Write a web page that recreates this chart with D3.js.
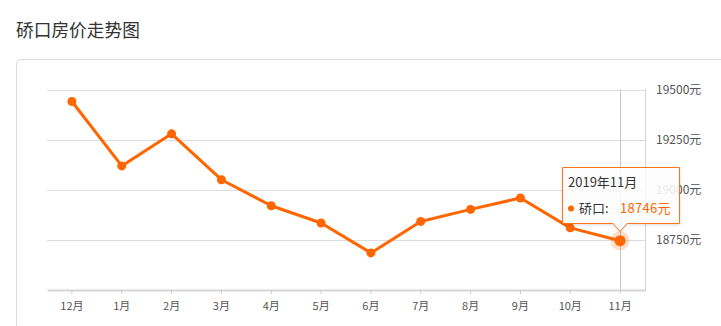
<!DOCTYPE html>
<html>
<head>
<meta charset="utf-8">
<script src="https://cdn.jsdelivr.net/npm/d3@7"></script>
<style>
  body { margin: 0; background: #fff; font-family: "Noto Sans CJK SC", "Noto Sans", sans-serif; }
</style>
</head>
<body>
<script>
const w = 721;
const h = 326;

const months = ["12月", "1月", "2月", "3月", "4月", "5月", "6月", "7月", "8月", "9月", "10月", "11月"];
const prices = [19440, 19119, 19279, 19050, 18920, 18834, 18685, 18842, 18902, 18959, 18810, 18746];
const yTicks = [18500, 18750, 19000, 19250, 19500];
const tipTitle = "2019年11月";
const seriesName = "硚口";

const orange = "#ff6600";

var svg = d3.select("body")
            .append("svg")
            .attr("width", w)
            .attr("height", h)
            .style("display", "block");

// title
svg.append("text")
   .text("硚口房价走势图")
   .attr("x", 16)
   .attr("y", 37)
   .attr("font-size", 17.7)
   .attr("fill", "#333");

// card border
svg.append("rect")
   .attr("x", 16.5)
   .attr("y", 59.5)
   .attr("width", 760)
   .attr("height", 320)
   .attr("rx", 4)
   .attr("fill", "none")
   .attr("stroke", "#ddd");

const xScale = d3.scaleBand()
                 .domain(months)
                 .range([47, 645]);

const yScale = d3.scaleLinear()
                 .domain([18500, 19500])
                 .range([290, 89.5]);

const chart = svg.append("g");

// grid lines
chart.selectAll(".grid")
     .data(yTicks.slice(1))
     .enter()
     .append("line")
     .attr("x1", 47)
     .attr("x2", 645)
     .attr("y1", d => Math.round(yScale(d)) + 0.5)
     .attr("y2", d => Math.round(yScale(d)) + 0.5)
     .attr("stroke", "#dcdcdc");

// right border of plot
chart.append("line")
     .attr("x1", 645.5).attr("x2", 645.5)
     .attr("y1", 89).attr("y2", 291)
     .attr("stroke", "#d4d4d4");

// y labels on right
const yAxis = d3.axisRight(yScale)
                .tickValues(yTicks.slice(1))
                .tickSize(0)
                .tickPadding(0)
                .tickFormat(d => d + "元");

const yG = chart.append("g")
     .attr("transform", "translate(656,0)")
     .call(yAxis);
yG.select(".domain").remove();
yG.selectAll("text")
  .attr("font-family", "Noto Sans CJK SC, sans-serif")
  .attr("font-size", 12)
  .attr("fill", "#555")
  .attr("dy", "0.33em");

// x axis
const xAxis = d3.axisBottom(xScale)
                .tickSize(4)
                .tickPadding(6)
                .tickSizeOuter(0);

const xG = chart.append("g")
     .attr("transform", "translate(0,290)")
     .call(xAxis);
xG.select(".domain")
  .attr("stroke", "#d6d6d6")
  .attr("stroke-width", 2);
xG.selectAll(".tick line")
  .attr("stroke", "#ccc");
xG.selectAll("text")
  .attr("font-family", "Noto Sans CJK SC, sans-serif")
  .attr("font-size", 11)
  .attr("fill", "#555")
  .attr("dy", "0.9em");

const cx = d => xScale(d) + xScale.bandwidth() / 2;
const lastIdx = months.length - 1;

// crosshair
chart.append("line")
     .attr("x1", Math.round(cx(months[lastIdx])) + 0.5)
     .attr("x2", Math.round(cx(months[lastIdx])) + 0.5)
     .attr("y1", 89)
     .attr("y2", 290)
     .attr("stroke", "#c8c8c8");

// line
const line = d3.line()
               .x((d, i) => cx(months[i]))
               .y(d => yScale(d));

chart.append("path")
     .datum(prices)
     .attr("d", line)
     .attr("fill", "none")
     .attr("stroke", orange)
     .attr("stroke-width", 3)
     .attr("stroke-linejoin", "round");

chart.selectAll(".dot")
     .data(prices)
     .enter()
     .append("circle")
     .attr("class", "dot")
     .attr("cx", (d, i) => cx(months[i]))
     .attr("cy", d => yScale(d))
     .attr("r", (d, i) => i === lastIdx ? 0 : 4.5)
     .attr("fill", orange);

// highlighted last point
const lx = cx(months[lastIdx]);
const ly = yScale(prices[lastIdx]);
chart.append("circle")
     .attr("cx", lx).attr("cy", ly)
     .attr("r", 9.5)
     .attr("fill", orange)
     .attr("fill-opacity", 0.22);
chart.append("circle")
     .attr("cx", lx).attr("cy", ly)
     .attr("r", 5.5)
     .attr("fill", orange);

// tooltip
const tip = svg.append("g");
const defs = svg.append("defs");
const f = defs.append("filter").attr("id", "sh").attr("x", "-20%").attr("y", "-20%").attr("width", "140%").attr("height", "150%");
f.append("feDropShadow").attr("dx", 0).attr("dy", 1).attr("stdDeviation", 1.5).attr("flood-color", "#000").attr("flood-opacity", 0.15);

const bx = 562.5, by = 167.5, bw = 117, bh = 56;
const tipPath = "M" + bx + "," + by +
  "H" + (bx + bw) + "V" + (by + bh) +
  "H" + (lx + 7) + "L" + lx + "," + (by + bh + 8) + "L" + (lx - 7) + "," + (by + bh) +
  "H" + bx + "Z";
tip.append("path")
   .attr("d", tipPath)
   .attr("fill", "#fff")
   .attr("fill-opacity", 0.85)
   .attr("stroke", orange)
   .attr("stroke-opacity", 0.9)
   .attr("filter", "url(#sh)");

tip.append("text")
   .text(tipTitle)
   .attr("x", 568)
   .attr("y", 187)
   .attr("font-size", 13)
   .attr("fill", "#333");
tip.append("circle")
   .attr("cx", 571).attr("cy", 208.5)
   .attr("r", 3)
   .attr("fill", orange);
tip.append("text")
   .text(seriesName + ":")
   .attr("x", 579)
   .attr("y", 213)
   .attr("font-size", 13)
   .attr("fill", "#333");
tip.append("text")
   .text(prices[lastIdx] + "元")
   .attr("x", 620)
   .attr("y", 213)
   .attr("font-size", 13)
   .attr("letter-spacing", 0.3)
   .attr("fill", orange);
</script>
</body>
</html>
